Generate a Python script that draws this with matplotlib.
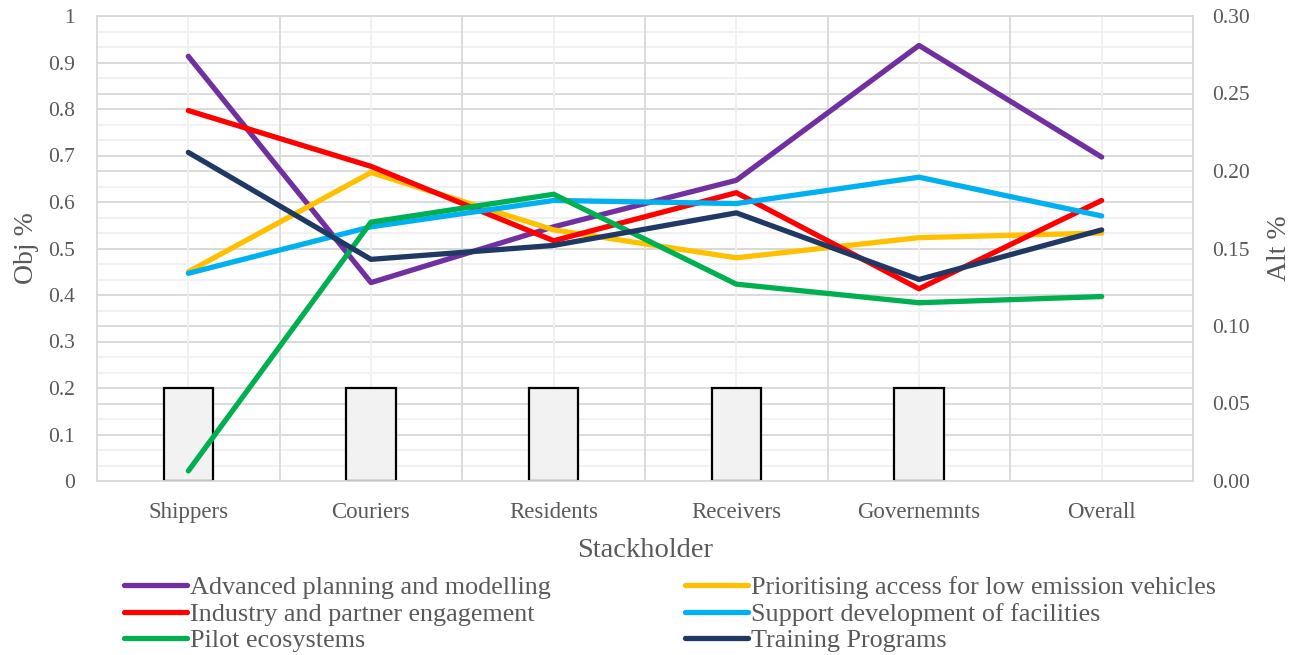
from matplotlib import pyplot as plt
from matplotlib.ticker import FuncFormatter
import numpy as np

plt.rcParams['font.family'] = ['Liberation Serif', 'DejaVu Serif']

# data ---------------------------------------------------------------------------------
stakeholders = ["Shippers", "Couriers", "Residents", "Receivers", "Governemnts", "Overall"]
obj_weights = [0.2, 0.2, 0.2, 0.2, 0.2]   # bars, left axis (no bar for Overall)

advanced_planning = [0.274, 0.128, 0.164, 0.194, 0.281, 0.209]
prioritising_access = [0.135, 0.199, 0.162, 0.144, 0.157, 0.160]
industry_engagement = [0.239, 0.203, 0.155, 0.186, 0.124, 0.181]
support_facilities = [0.134, 0.164, 0.181, 0.179, 0.196, 0.171]
pilot_ecosystems = [0.0065, 0.167, 0.185, 0.127, 0.115, 0.119]
training_programs = [0.212, 0.143, 0.152, 0.173, 0.130, 0.162]

series = [
    ("Advanced planning and modelling", advanced_planning, "#7030a0"),
    ("Prioritising access for low emission vehicles", prioritising_access, "#ffc000"),
    ("Industry and partner engagement", industry_engagement, "#ff0000"),
    ("Support development of facilities", support_facilities, "#00b0f0"),
    ("Pilot ecosystems", pilot_ecosystems, "#00b050"),
    ("Training Programs", training_programs, "#203864"),
]

grey_text = "#595959"
grid_dark = "#d9d9d9"
grid_light = "#f0f0f0"

fig = plt.figure(figsize=(13.02, 6.55), dpi=100)
ax = fig.add_axes([97 / 1302, 1 - 481 / 655, (1193 - 97) / 1302, (481 - 16) / 655])
x = np.arange(len(stakeholders))

# grid: right axis minor (0.01) light, right major (0.05) and left major (0.1) dark
for k in range(31):
    ax.axhline(k / 30, color=grid_dark if k % 5 == 0 else grid_light, lw=1.3, zorder=0)
for k in range(11):
    ax.axhline(k / 10, color=grid_dark, lw=1.3, zorder=0)
for i in range(len(stakeholders)):
    ax.axvline(i, color=grid_light, lw=1.3, zorder=0)
    ax.axvline(i + 0.5, color=grid_dark, lw=1.3, zorder=0)

ax.bar(x[:len(obj_weights)], obj_weights, width=0.27, color="#f2f2f2", edgecolor="black",
       linewidth=1.6, zorder=2)
ax.set_xlim(-0.5, len(stakeholders) - 0.5)
ax.set_ylim(0, 1)
ax.set_yticks(np.arange(0, 1.01, 0.1))
ax.yaxis.set_major_formatter(FuncFormatter(lambda v, p: "{:g}".format(round(v, 1))))
ax.set_xticks(x)
ax.set_xticklabels(stakeholders)
ax.tick_params(axis='x', length=0, pad=15, labelsize=16.5, labelcolor=grey_text)
ax.tick_params(axis='y', length=0, pad=16, labelsize=15.5, labelcolor=grey_text)
for s in ax.spines.values():
    s.set_color(grid_dark)
    s.set_linewidth(1.3)
ax.set_ylabel("Obj %", fontsize=20, color=grey_text, labelpad=6)
ax.set_xlabel("Stackholder", fontsize=20.5, color=grey_text, labelpad=11)

ax2 = ax.twinx()
handles = {}
for name, vals, col in series:
    h, = ax2.plot(x, vals, color=col, lw=3.8, solid_capstyle='round', solid_joinstyle='round',
                  label=name)
    handles[name] = h
ax2.set_ylim(0, 0.30)
ax2.set_yticks(np.arange(0, 0.301, 0.05))
ax2.yaxis.set_major_formatter(FuncFormatter(lambda v, p: "%.2f" % v))
ax2.tick_params(axis='y', length=0, pad=14, labelsize=15.5, labelcolor=grey_text)
for s in ax2.spines.values():
    s.set_visible(False)
ax2.set_ylabel("Alt %", fontsize=20, color=grey_text, labelpad=12)

legend_order = ["Advanced planning and modelling", "Industry and partner engagement", "Pilot ecosystems",
                "Prioritising access for low emission vehicles", "Support development of facilities",
                "Training Programs"]
leg = fig.legend([handles[n] for n in legend_order], legend_order, ncol=2, loc='upper left',
                 bbox_to_anchor=(124 / 1302, 1 - 576 / 655), frameon=False, fontsize=18.8,
                 handlelength=2.4, handletextpad=0.12, labelspacing=0.12, columnspacing=5.15,
                 borderaxespad=0, borderpad=0)
for t in leg.get_texts():
    t.set_color(grey_text)

plt.savefig("out.png", dpi=100)
